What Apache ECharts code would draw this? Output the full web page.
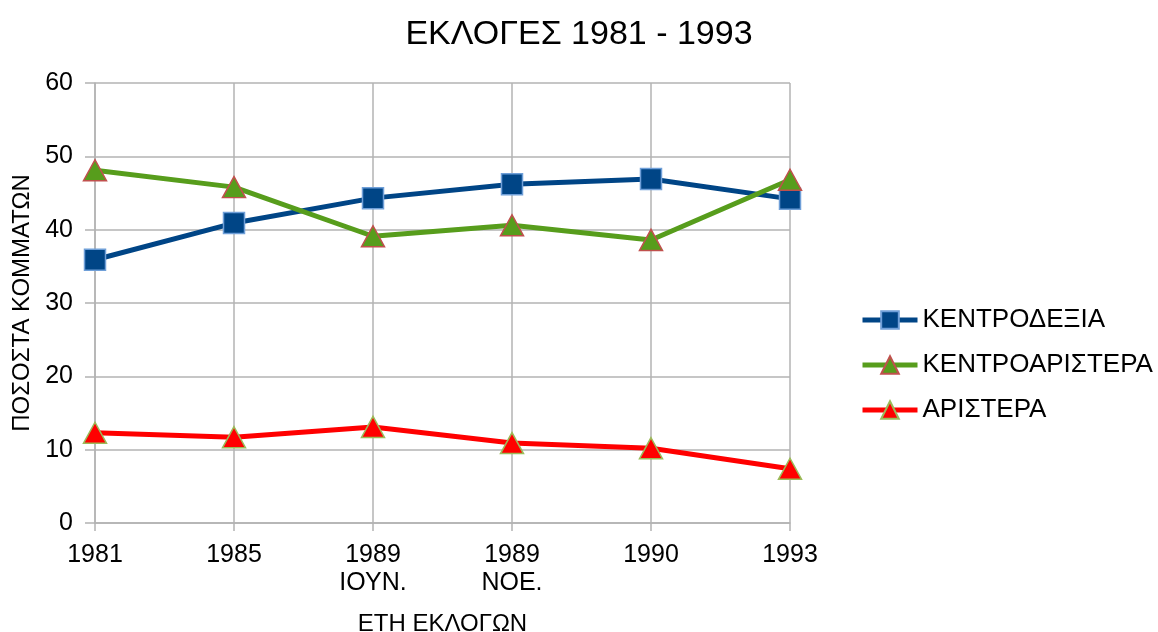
<!DOCTYPE html>
<html><head><meta charset="utf-8">
<script src="https://cdn.jsdelivr.net/npm/echarts@6/dist/echarts.min.js"></script>
<style>html,body{margin:0;padding:0;background:#fff}#c{width:1158px;height:632px}</style>
</head><body><div id="c"></div>
<script>
const categories = ['1981', '1985', '1989\nΙΟΥΝ.', '1989\nΝΟΕ.', '1990', '1993'];
const kentrodexia = [35.9, 40.9, 44.3, 46.2, 46.9, 44.2];
const kentroaristera = [48.1, 45.8, 39.1, 40.6, 38.6, 46.8];
const aristera = [12.3, 11.7, 13.1, 10.9, 10.2, 7.4];
const font = 'Liberation Sans, Arial, sans-serif';
const chart = echarts.init(document.getElementById('c'));
chart.setOption({
  animation: false,
  textStyle: {fontFamily: font},
  title: {text: 'ΕΚΛΟΓΕΣ 1981 - 1993', left: 'center', top: 13,
    textStyle: {fontFamily: font, fontSize: 34, fontWeight: 'normal', color: '#000'}},
  grid: {left: 95, right: 368, top: 83, bottom: 109, containLabel: false, outerBoundsMode: 'none'},
  legend: {orient: 'vertical', left: 860, top: 307, padding: 0, itemWidth: 55, itemHeight: 22, itemGap: 19,
    lineStyle: {width: 5},
    textStyle: {fontFamily: font, fontSize: 26, color: '#000'},
    data: ['ΚΕΝΤΡΟΔΕΞΙΑ', 'ΚΕΝΤΡΟΑΡΙΣΤΕΡΑ', 'ΑΡΙΣΤΕΡΑ']},
  xAxis: {type: 'category', data: categories, boundaryGap: false,
    name: 'ΕΤΗ ΕΚΛΟΓΩΝ', nameLocation: 'middle', nameGap: 89,
    nameTextStyle: {fontFamily: font, fontSize: 24, color: '#000'},
    axisLine: {lineStyle: {color: '#b3b3b3', width: 1.5}},
    axisTick: {show: true, length: 8, lineStyle: {color: '#b3b3b3', width: 1.5}},
    splitLine: {show: true, lineStyle: {color: '#b3b3b3', width: 1.5}},
    axisLabel: {fontFamily: font, fontSize: 25, color: '#000', margin: 18, lineHeight: 28}},
  yAxis: {type: 'value', min: 0, max: 60, interval: 10,
    name: 'ΠΟΣΟΣΤΑ ΚΟΜΜΑΤΩΝ', nameLocation: 'middle', nameGap: 61,
    nameTextStyle: {fontFamily: font, fontSize: 24, color: '#000'},
    axisLine: {show: true, lineStyle: {color: '#b3b3b3', width: 1.5}},
    axisTick: {show: true, length: 10, lineStyle: {color: '#b3b3b3', width: 1.5}},
    splitLine: {show: true, lineStyle: {color: '#b3b3b3', width: 1.5}},
    axisLabel: {fontFamily: font, fontSize: 25, color: '#000', margin: 22}},
  series: [
    {name: 'ΚΕΝΤΡΟΔΕΞΙΑ', type: 'line', data: kentrodexia, symbol: 'rect', symbolSize: 21,
      lineStyle: {color: '#004586', width: 5}, itemStyle: {color: '#004586', borderColor: '#6f9fd8', borderWidth: 1.5}},
    {name: 'ΚΕΝΤΡΟΑΡΙΣΤΕΡΑ', type: 'line', data: kentroaristera, symbol: 'triangle', symbolSize: [23, 21],
      lineStyle: {color: '#579d1c', width: 5}, itemStyle: {color: '#579d1c', borderColor: '#c0504d', borderWidth: 1.5}},
    {name: 'ΑΡΙΣΤΕΡΑ', type: 'line', data: aristera, symbol: 'triangle', symbolSize: [23, 21],
      lineStyle: {color: '#ff0000', width: 5}, itemStyle: {color: '#ff0000', borderColor: '#9bbb59', borderWidth: 1.5}}
  ]
});
</script></body></html>
